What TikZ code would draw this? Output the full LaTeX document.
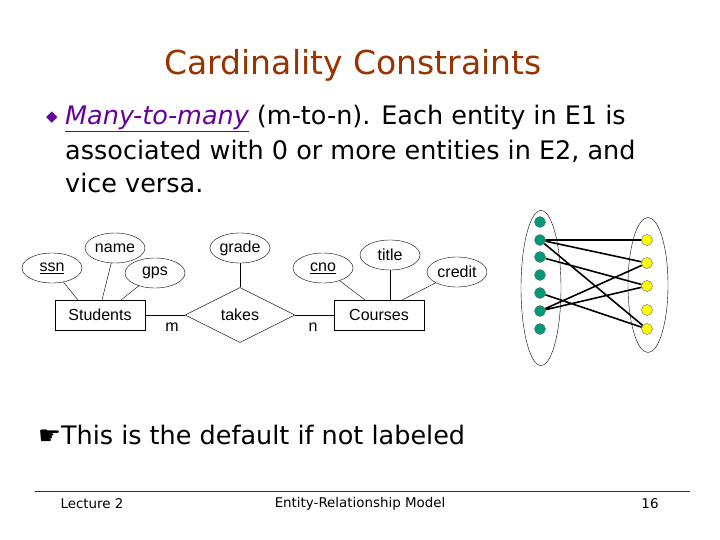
\documentclass[tikz,border=0pt]{standalone}
\usepackage{fontspec}
\setmainfont{DejaVu Sans}
\newfontfamily\arial{Liberation Sans}
\usetikzlibrary{shapes.geometric}
\definecolor{ttl}{RGB}{153,51,0}
\definecolor{purp}{RGB}{102,0,153}
\definecolor{gdot}{RGB}{0,153,120}
\definecolor{ydot}{RGB}{255,255,0}
\tikzset{x=1pt,y=-1pt,
 lab/.style={font=\arial\fontsize{16}{18}\selectfont},
 attr/.style={ellipse,draw,thin,inner sep=0pt,minimum width=60,minimum height=30,lab},
 ent/.style={rectangle,draw,minimum width=90,minimum height=30,lab},
 rel/.style={diamond,draw,aspect=2,minimum width=110,minimum height=55,inner sep=0pt,lab},
 gd/.style={circle,fill=gdot,draw=black!60,minimum size=11,inner sep=0pt},
 yd/.style={circle,fill=ydot,draw=black!60,minimum size=11,inner sep=0pt},
 lk/.style={line width=1.6pt},
 body/.style={font=\fontsize{25.5}{30}\selectfont,anchor=west,inner sep=0pt},
 foot/.style={font=\fontsize{13.4}{15}\selectfont,inner sep=0pt}}
\begin{document}
\begin{tikzpicture}
\useasboundingbox[fill=white] (0,0) rectangle (720,540);
\node[font=\fontsize{33}{38}\selectfont,text=ttl] (title) at (353,65) {Cardinality Constraints};
\node[text=purp,font=\fontsize{15}{15}\selectfont] (bul) at (52,118) {◆};
\node[body] (l1) at (65,118) {\textcolor{purp}{\itshape\underline{Many-to-many}} (m-to-n). Each entity in E1 is};
\node[body] (l2) at (65,151) {associated with 0 or more entities in E2, and};
\node[body] (l3) at (65,183) {vice versa.};
% ER
\node[ent] (stu) at (100,315) {Students};
\node[rel] (tk) at (240,315) {takes};
\node[ent] (crs) at (379,315) {Courses};
\node[attr] (ssn) at (52,268) {\underline{ssn}};
\node[attr] (name) at (115,248) {name};
\node[attr] (gps) at (155,273) {gps};
\node[attr] (grade) at (240,248) {grade};
\node[attr] (cno) at (323,268) {\underline{cno}};
\node[attr] (tit) at (390,255) {title};
\node[attr] (cred) at (457,272) {credit};
\coordinate (s1) at (78,300); \coordinate (s2) at (102,300); \coordinate (s3) at (121,300);
\coordinate (c1) at (365,300); \coordinate (c2) at (390,300); \coordinate (c3) at (402,300);
\draw (ssn) -- (s1);
\draw (name) -- (s2);
\draw (gps) -- (s3);
\draw (grade) -- (tk.north);
\draw (cno) -- (c1);
\draw (tit) -- (c2);
\draw (cred) -- (c3);
\draw (stu) -- (tk);
\draw (tk) -- (crs);
\node[lab] (m) at (172,327) {m};
\node[lab] (n) at (313,327) {n};
% sets
\node[ellipse,draw,thin,minimum width=40,minimum height=155] (E1) at (541,288) {};
\node[ellipse,draw,thin,minimum width=40,minimum height=135] (E2) at (648,285) {};
\foreach \i/\y in {1/222,2/240,3/257,4/275,5/293,6/311,7/329} \node[gd] (g\i) at (540,\y) {};
\foreach \i/\y in {1/240,2/263,3/286,4/310,5/329} \node[yd] (y\i) at (647,\y) {};
\draw[lk] (g2)--(y1) (g2)--(y2) (g2)--(y5) (g3)--(y3) (g5)--(y5) (g6)--(y2) (g6)--(y3);
\node[body] (note) at (38,435) {☛This is the default if not labeled};
\draw[purp,thick] (35,491) coordinate (fa) -- (690,491) coordinate (fb);
\node[foot] (lec) at (92,504) {Lecture 2};
\node[foot] (erm) at (360,504) {Entity-Relationship Model};
\node[foot] (pg) at (650,504) {16};
\end{tikzpicture}
\end{document}
